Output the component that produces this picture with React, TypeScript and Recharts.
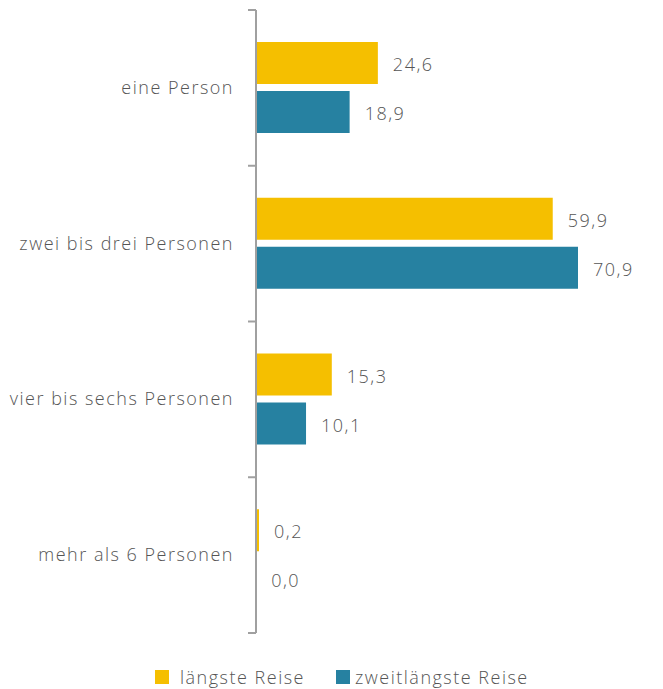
import { BarChart, Bar, XAxis, YAxis, LabelList } from 'recharts';

const categories = ['eine Person', 'zwei bis drei Personen', 'vier bis sechs Personen', 'mehr als 6 Personen'];
const laengsteReise = [24.6, 59.9, 15.3, 0.2];
const zweitlaengsteReise = [18.9, 70.9, 10.1, 0.0];
const seriesNames = ['längste Reise', 'zweitlängste Reise'];
const seriesColors = ['#F5BF00', '#2681A1'];

const W = 663;
const H = 640;
const MARGIN = { top: 10, right: 85, bottom: 7, left: 0 };
const AXIS_W = 256;
const PLOT_RIGHT = W - MARGIN.right;
const BAND = (H - MARGIN.top - MARGIN.bottom) / categories.length;
const FONT = '"Open Sans", sans-serif';
const TEXT = '#555555';
const AXIS = '#A0A0A0';
const SPACING = 1.5;

const data = categories.map((name, i) => ({
  name,
  laengste: laengsteReise[i],
  zweit: zweitlaengsteReise[i],
}));

const fmt = (v: number) => v.toFixed(1).replace('.', ',');

const CategoryTick = ({ x, y, payload, index }: any) => (
  <g>
    <line x1={x - 8} x2={x} y1={y - BAND / 2} y2={y - BAND / 2} stroke={AXIS} strokeWidth={2} />
    {index === categories.length - 1 && (
      <line x1={x - 8} x2={x} y1={y + BAND / 2} y2={y + BAND / 2} stroke={AXIS} strokeWidth={2} />
    )}
    <text
      x={x - 22}
      y={y}
      dy={6}
      textAnchor="end"
      fill={TEXT}
      fontSize={18}
      fontWeight={300}
      fontFamily={FONT}
      letterSpacing={SPACING}
    >
      {payload.value}
    </text>
  </g>
);

const ValueLabel = ({ x, y, width, height, value }: any) => (
  <text
    x={Math.min(x + Math.max(width, 0), PLOT_RIGHT) + 15}
    y={y + height / 2}
    dy={8}
    fill={TEXT}
    fontSize={18}
    fontWeight={300}
    fontFamily={FONT}
    letterSpacing={SPACING}
  >
    {fmt(Number(value))}
  </text>
);

export default function App() {
  return (
    <div style={{ width: W, height: 689, fontFamily: FONT, position: 'relative' }}>
      <style>{'body{margin:0}'}</style>
      <BarChart
        width={W}
        height={H}
        data={data}
        layout="vertical"
        margin={MARGIN}
        barSize={42}
        barGap={7}
      >
        <XAxis type="number" hide domain={[0, 65]} allowDataOverflow />
        <YAxis
          type="category"
          dataKey="name"
          width={AXIS_W}
          axisLine={{ stroke: AXIS, strokeWidth: 2 }}
          tickLine={false}
          tickSize={0}
          tickMargin={0}
          tick={<CategoryTick />}
          interval={0}
        />
        <Bar dataKey="laengste" fill={seriesColors[0]} minPointSize={3} isAnimationActive={false}>
          <LabelList dataKey="laengste" content={<ValueLabel />} />
        </Bar>
        <Bar dataKey="zweit" fill={seriesColors[1]} minPointSize={0.2} isAnimationActive={false}>
          <LabelList dataKey="zweit" content={<ValueLabel />} />
        </Bar>
      </BarChart>
      <div
        style={{
          position: 'absolute',
          top: 665,
          left: 155,
          display: 'flex',
          alignItems: 'center',
          fontSize: 18,
          fontWeight: 300,
          color: TEXT,
          lineHeight: '24px',
          letterSpacing: SPACING,
        }}
      >
        {seriesNames.map((n, i) => (
          <div key={n} style={{ display: 'flex', alignItems: 'center', marginRight: i === 0 ? 31 : 0 }}>
            <span style={{ width: 14, height: 14, background: seriesColors[i], display: 'inline-block', marginRight: i === 0 ? 11 : 5 }} />
            <span>{n}</span>
          </div>
        ))}
      </div>
    </div>
  );
}
